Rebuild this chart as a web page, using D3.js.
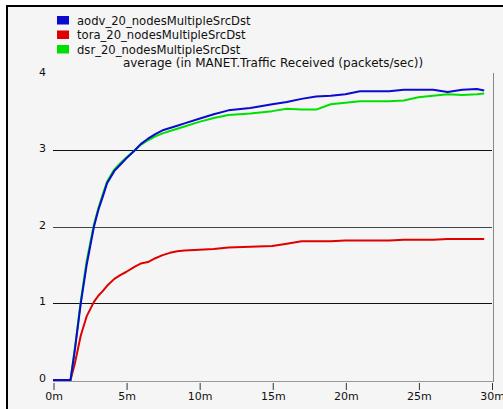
<!DOCTYPE html>
<html>
<head>
<meta charset="utf-8">
<script src="https://d3js.org/d3.v7.min.js"></script>
<style>
    body { margin: 0; background: #fff; }
    svg text { font-family: 'DejaVu Sans', Verdana, sans-serif; }
</style>
</head>
<body>
<svg id="chart" width="503" height="409"></svg>
<script>
    // time in minutes
    var times = [0, 1.2, 1.5, 1.9, 2.3, 2.8, 3.1, 3.4, 3.7, 4.2, 4.6, 5, 5.6, 6, 6.5, 7, 7.5, 8, 8.5, 9, 10, 11, 12, 13.5, 15, 16, 17, 18, 19, 20, 21, 22, 23, 24, 25, 26, 27, 28, 29, 29.5];
    var aodv = [0, 0, 0.4, 1.0, 1.5, 2.0, 2.22, 2.39, 2.57, 2.73, 2.81, 2.89, 3.0, 3.08, 3.15, 3.21, 3.26, 3.29, 3.32, 3.35, 3.41, 3.47, 3.52, 3.55, 3.6, 3.63, 3.67, 3.7, 3.71, 3.73, 3.77, 3.77, 3.77, 3.79, 3.79, 3.79, 3.76, 3.79, 3.80, 3.78];
    var tora = [0, 0, 0.22, 0.58, 0.83, 1.02, 1.1, 1.16, 1.23, 1.32, 1.37, 1.41, 1.48, 1.52, 1.54, 1.59, 1.63, 1.66, 1.68, 1.69, 1.70, 1.71, 1.73, 1.74, 1.75, 1.78, 1.81, 1.81, 1.81, 1.82, 1.82, 1.82, 1.82, 1.83, 1.83, 1.83, 1.84, 1.84, 1.84, 1.84];
    var dsr = [0, 0, 0.42, 1.03, 1.55, 2.03, 2.24, 2.42, 2.59, 2.75, 2.83, 2.9, 3.0, 3.07, 3.13, 3.18, 3.22, 3.25, 3.28, 3.31, 3.37, 3.42, 3.46, 3.48, 3.51, 3.54, 3.53, 3.53, 3.6, 3.62, 3.64, 3.64, 3.64, 3.65, 3.69, 3.71, 3.73, 3.72, 3.73, 3.74];

    var seriesNames = ["aodv_20_nodesMultipleSrcDst", "tora_20_nodesMultipleSrcDst", "dsr_20_nodesMultipleSrcDst"];
    var seriesColors = ["#0a0ad0", "#e00000", "#00e000"];
    var xTicks = [0, 5, 10, 15, 20, 25, 30];
    var yTicks = [0, 1, 2, 3, 4];
    var gridValues = [1, 2, 3];
    var title = "average (in MANET.Traffic Received (packets/sec))";

    var svg = d3.select('#chart');

    // panel background and frame
    svg.append("rect").attr("x", 7).attr("y", 6).attr("width", 496).attr("height", 403).attr("fill", "#f5f5f5");
    svg.append("line").attr("x1", 6).attr("x2", 503).attr("y1", 6).attr("y2", 6).attr("stroke", "#000").attr("stroke-width", 2);
    svg.append("line").attr("x1", 7).attr("x2", 7).attr("y1", 5).attr("y2", 409).attr("stroke", "#000").attr("stroke-width", 2);

    var x = d3.scaleLinear().domain([0, 30]).range([53, 491.5]);
    var y = d3.scaleLinear().domain([0, 4]).range([380, 73.6]);

    // grid lines
    svg.append("g").selectAll("line").data(gridValues).join("line")
        .attr("x1", 53).attr("x2", 492)
        .attr("y1", d => Math.round(y(d)) + 0.5).attr("y2", d => Math.round(y(d)) + 0.5)
        .attr("stroke", d => d == 2 ? "#444" : "#111");

    // bottom and right frame of plot
    svg.append("line").attr("x1", 53).attr("x2", 493.5).attr("y1", 381.5).attr("y2", 381.5).attr("stroke", "#999");
    svg.append("line").attr("x1", 493.5).attr("x2", 493.5).attr("y1", 73).attr("y2", 382).attr("stroke", "#888");

    // x axis
    var xAxis = svg.append("g").attr("transform", "translate(0.5,382)")
        .call(d3.axisBottom(x).tickValues(xTicks).tickSize(8).tickFormat(d => d + "m"));
    xAxis.select(".domain").remove();
    xAxis.selectAll(".tick line").attr("stroke", "#333").attr("y1", 1);
    xAxis.selectAll("text").attr("font-size", 11).attr("fill", "#111").attr("dy", "0.95em").attr("y", 8)
        .style("font-family", "'DejaVu Sans', Verdana, sans-serif");

    // y labels
    svg.append("g").selectAll("text").data(yTicks).join("text")
        .attr("x", 46).attr("y", d => y(d) - 1)
        .attr("text-anchor", "end").attr("dominant-baseline", "middle")
        .attr("font-size", 11).attr("fill", "#111")
        .text(d => d);

    // lines
    var allSeries = [aodv, tora, dsr];
    var line = d3.line().x((d, i) => x(times[i])).y(d => y(d));
    var drawOrder = [1, 2, 0];
    svg.append("g").selectAll("path").data(drawOrder).join("path")
        .attr("d", i => line(allSeries[i]))
        .attr("fill", "none")
        .attr("stroke", i => seriesColors[i])
        .attr("stroke-width", 2)
        .attr("stroke-linejoin", "round");

    // legend
    var legend = svg.append("g").selectAll("g").data(seriesNames).join("g")
        .attr("transform", (d, i) => "translate(57," + (16 + i * 14.5) + ")");
    legend.append("rect").attr("width", 12).attr("height", 8.5).attr("fill", (d, i) => seriesColors[i]);
    legend.append("text").attr("x", 20).attr("y", 8.5).attr("font-size", 11.6).attr("fill", "#111").text(d => d);

    svg.append("text").attr("x", 273).attr("y", 67).attr("text-anchor", "middle")
        .attr("font-size", 12).attr("fill", "#111").text(title);
</script>
</body>
</html>
